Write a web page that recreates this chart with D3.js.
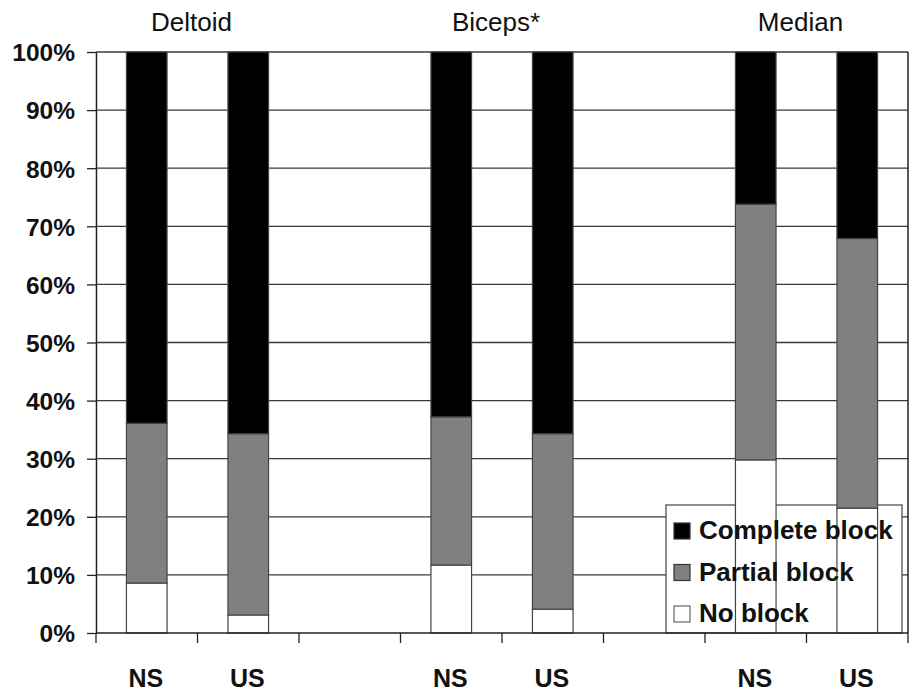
<!DOCTYPE html>
<html>
<head>
<meta charset="utf-8">
<script src="https://cdn.jsdelivr.net/npm/d3@7"></script>
<style>
  html, body { margin: 0; padding: 0; background: #fff; }
  svg { display: block; }
  text { font-family: "Liberation Sans", Arial, sans-serif; fill: #111; }
</style>
</head>
<body>
<svg id="chart" width="914" height="694"></svg>
<script>
// ---- Data ----
const slots = ["d-NS", "d-US", "gap1", "b-NS", "b-US", "gap2", "m-NS", "m-US"];
const slotLabels = ["NS", "US", "", "NS", "US", "", "NS", "US"];
const groupNames = ["Deltoid", "Biceps*", "Median"];
const groupSlots = [["d-NS", "d-US"], ["b-NS", "b-US"], ["m-NS", "m-US"]];
const barSlots = ["d-NS", "d-US", "b-NS", "b-US", "m-NS", "m-US"];
const noBlock = [8.6, 3.1, 11.7, 4.1, 29.8, 21.5];
const partialBlock = [27.5, 31.2, 25.5, 30.2, 44.0, 46.4];
const completeBlock = [63.9, 65.7, 62.8, 65.7, 26.2, 32.1];
const seriesNames = ["No block", "Partial block", "Complete block"];
const seriesColors = ["#ffffff", "#808080", "#000000"];
const yTickValues = [0, 10, 20, 30, 40, 50, 60, 70, 80, 90, 100];

// ---- Layout ----
const W = 914, H = 694;
const plot = { left: 96, right: 908, top: 52, bottom: 633 };
const svg = d3.select("#chart");

const x = d3.scaleBand().domain(slots).range([plot.left, plot.right]).paddingInner(0).paddingOuter(0);
const barW = x.bandwidth() / 2.5;
const y = d3.scaleLinear().domain([0, 100]).range([plot.bottom, plot.top]);

// rows for stacking
const rows = barSlots.map((s, i) => ({ slot: s, "No block": noBlock[i], "Partial block": partialBlock[i], "Complete block": completeBlock[i] }));
const stack = d3.stack().keys(seriesNames);
const stacked = stack(rows);

// gridlines
svg.append("g").selectAll("line").data(yTickValues.filter(v => v > 0)).join("line")
  .attr("x1", plot.left).attr("x2", plot.right)
  .attr("y1", d => y(d)).attr("y2", d => y(d))
  .attr("stroke", "#3a3a3a").attr("stroke-width", 1.3);

// right border
svg.append("line").attr("x1", plot.right).attr("x2", plot.right)
  .attr("y1", plot.top).attr("y2", plot.bottom).attr("stroke", "#222").attr("stroke-width", 1.5);

// legend box (beneath bars, as in the reference)
const lg = { x: 666, y: 505, w: 236, h: 128 };
svg.append("rect").attr("x", lg.x).attr("y", lg.y).attr("width", lg.w).attr("height", lg.h)
  .attr("fill", "#fff").attr("stroke", "#444").attr("stroke-width", 1.2);

// bars
const gBars = svg.append("g");
stacked.forEach((layer, li) => {
  gBars.append("g").selectAll("rect").data(layer).join("rect")
    .attr("x", d => x(d.data.slot) + (x.bandwidth() - barW) / 2)
    .attr("width", barW)
    .attr("y", d => y(d[1]))
    .attr("height", d => y(d[0]) - y(d[1]))
    .attr("fill", seriesColors[li])
    .attr("stroke", "#444").attr("stroke-width", 1.2);
});

// y axis
const yAxis = d3.axisLeft(y).tickValues(yTickValues).tickFormat(d => d + "%").tickSizeInner(9).tickSizeOuter(0).tickPadding(12);
const gy = svg.append("g").attr("transform", `translate(${plot.left},0)`).call(yAxis);
gy.select(".domain").attr("stroke", "#222").attr("stroke-width", 1.5);
gy.selectAll(".tick line").attr("stroke", "#222").attr("stroke-width", 1.3);
gy.selectAll(".tick text").attr("font-size", 24.5).attr("font-weight", "bold").attr("fill", "#111")
  .attr("font-family", "Liberation Sans, Arial, sans-serif").attr("dy", "0.36em");

// x axis baseline + ticks at band boundaries
const gx = svg.append("g");
gx.append("line").attr("x1", plot.left).attr("x2", plot.right).attr("y1", plot.bottom).attr("y2", plot.bottom)
  .attr("stroke", "#222").attr("stroke-width", 1.5);
const boundaries = slots.map(s => x(s)).concat([plot.right]);
gx.selectAll("line.tk").data(boundaries).join("line").attr("class", "tk")
  .attr("x1", d => d).attr("x2", d => d).attr("y1", plot.bottom).attr("y2", plot.bottom + 10)
  .attr("stroke", "#222").attr("stroke-width", 1.3);
gx.selectAll("text").data(slots).join("text")
  .attr("x", d => x(d) + x.bandwidth() / 2 - 1)
  .attr("y", 687)
  .attr("text-anchor", "middle")
  .attr("font-size", 25).attr("font-weight", "bold")
  .text((d, i) => slotLabels[i]);

// group labels on top
svg.append("g").selectAll("text").data(groupNames).join("text")
  .attr("x", (d, i) => (x(groupSlots[i][0]) + x(groupSlots[i][1]) + x.bandwidth()) / 2 - 6)
  .attr("y", 31)
  .attr("text-anchor", "middle")
  .attr("font-size", 26)
  .text(d => d);

// legend items (on top)
const legendOrder = [2, 1, 0];
const gl = svg.append("g");
legendOrder.forEach((si, k) => {
  const base = 539 + k * 41.5;
  gl.append("rect").attr("x", lg.x + 8).attr("y", base - 16).attr("width", 16).attr("height", 16)
    .attr("fill", seriesColors[si]).attr("stroke", si === 0 ? "#666" : "#333").attr("stroke-width", 1.2);
  gl.append("text").attr("x", lg.x + 33).attr("y", base)
    .attr("font-size", 26).attr("font-weight", "bold").text(seriesNames[si]);
});
</script>
</body>
</html>
